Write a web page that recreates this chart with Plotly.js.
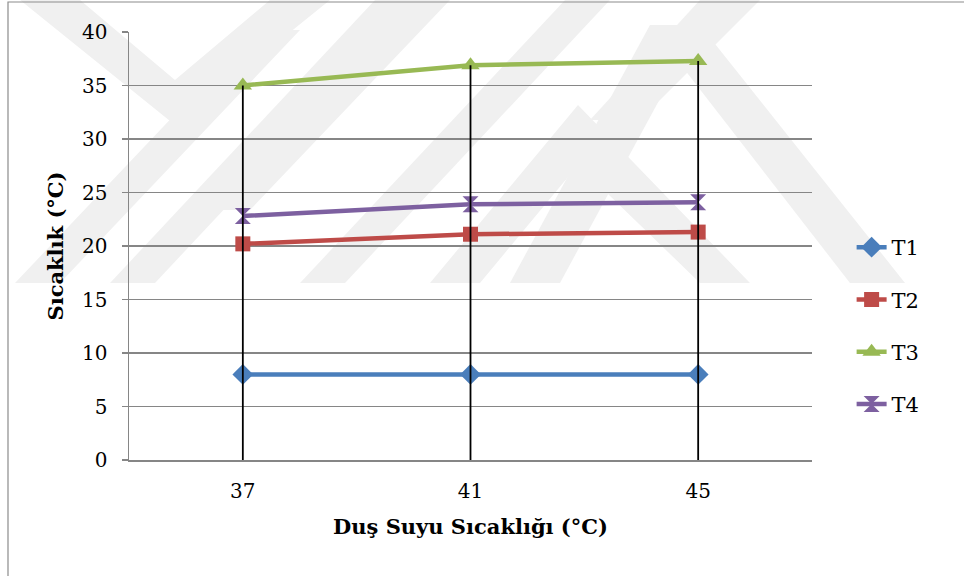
<!DOCTYPE html>
<html>
<head>
<meta charset="utf-8">
<script src="https://cdn.plot.ly/plotly-3.0.1.min.js"></script>
<style>html,body{margin:0;padding:0;background:#fff;}#chart{width:964px;height:576px;}</style>
</head>
<body>
<div id="chart"></div>
<script>
// ---- data ----
const categories = ["37", "41", "45"];
const seriesNames = ["T1", "T2", "T3", "T4"];
const T1 = [8.0, 8.0, 8.0];
const T2 = [20.2, 21.1, 21.3];
const T3 = [35.0, 36.9, 37.3];
const T4 = [22.8, 23.9, 24.1];
const yTicks = [0, 5, 10, 15, 20, 25, 30, 35, 40];

const colors = ["#4A7EBB", "#BE4B48", "#98B954", "#7D60A0"];
const symbols = ["diamond", "square", "triangle-up", "hourglass"];
const sizes = [16, 15, 16, 16];
const allSeries = [T1, T2, T3, T4];

const traces = allSeries.map((vals, i) => ({
  type: "scatter", mode: "lines+markers",
  x: categories, y: vals, name: seriesNames[i],
  legendgroup: seriesNames[i],
  line: {color: colors[i], width: 4.5},
  marker: {symbol: symbols[i], size: sizes[i], color: colors[i], line: {width: 0}}
}));

// drop lines: from 0 up to the highest series value at each category
const dropX = [], dropY = [];
categories.forEach((c, j) => {
  const top = Math.max(...allSeries.map(s => s[j]));
  dropX.push(c, c, null); dropY.push(0, top, null);
});
traces.push({type: "scatter", mode: "lines", x: dropX, y: dropY, showlegend: false,
  hoverinfo: "skip", line: {color: "#000", width: 1.8}});

// layout geometry
const W = 964, H = 576;
const M = {l: 129, r: 152, t: 32, b: 116};
const pw = W - M.l - M.r, ph = H - M.t - M.b;
const px = x => (x - M.l) / pw;
const py = y => 1 - (y - M.t) / ph;
function poly(pts) {
  return {type: "path", xref: "paper", yref: "paper", layer: "below",
    fillcolor: "#f0f0f0", line: {width: 0},
    path: "M" + pts.map(p => px(p[0]).toFixed(4) + "," + py(p[1]).toFixed(4)).join(" L") + " Z"};
}
const BOT = 283;
const wm = [
  // top-left chevron
  poly([[20,0],[80,0],[175,80],[270,0],[330,0],[175,125]]),
  // rising bands
  poly([[15,BOT],[60,BOT],[300,30],[255,30]]),
  poly([[110,BOT],[155,BOT],[420,0],[375,0]]),
  poly([[300,BOT],[345,BOT],[610,0],[565,0]]),
  poly([[400,0],[450,0],[250,210],[200,210]]),
  // right chevrons
  poly([[430,BOT],[480,BOT],[578,165],[700,BOT],[750,BOT],[578,105]]),
  poly([[650,25],[700,25],[905,BOT],[850,BOT]]),
  poly([[650,25],[700,25],[560,BOT],[510,BOT]]),
  poly([[700,0],[760,0],[640,120],[590,120]])
];

const shapes = wm.concat([
  {type: "rect", xref: "paper", yref: "paper", x0: px(8), x1: px(966), y0: py(2), y1: py(578),
   line: {color: "#8c8c8c", width: 1.2}, fillcolor: "rgba(0,0,0,0)", layer: "below"}
]);

const FAM = "DejaVu Serif";
const layout = {
  width: W, height: H, margin: M,
  paper_bgcolor: "#fff", plot_bgcolor: "rgba(0,0,0,0)",
  font: {family: FAM, color: "#000", size: 20},
  showlegend: true,
  legend: {x: 1.058, xanchor: "left", y: 0.313, yanchor: "middle",
    font: {family: FAM, size: 21, color: "#000"}, tracegroupgap: 22,
    traceorder: "grouped", bgcolor: "rgba(0,0,0,0)", itemwidth: 30},
  xaxis: {type: "category", range: [-0.5, 2.5], showgrid: false,
    showline: true, linecolor: "#868686", linewidth: 1.5, ticks: "",
    tickfont: {family: FAM, size: 20, color: "#000"}, ticklabelstandoff: 12,
    title: {text: "<b>Duş Suyu Sıcaklığı (°C)</b>", font: {family: FAM, size: 21, color: "#000"}, standoff: 18},
    zeroline: false, fixedrange: true},
  yaxis: {range: [0, 40], tickvals: yTicks, ticktext: yTicks.map(String),
    showgrid: true, gridcolor: "#868686", gridwidth: 1.5,
    showline: true, linecolor: "#868686", linewidth: 1.5,
    ticks: "outside", ticklen: 6, tickcolor: "#868686", tickwidth: 1.5,
    tickfont: {family: FAM, size: 20, color: "#000"}, ticklabelstandoff: 10,
    title: {text: "<b>Sıcaklık (°C)</b>", font: {family: FAM, size: 21, color: "#000"}, standoff: 12},
    zeroline: false, fixedrange: true},
  shapes: shapes
};

Plotly.newPlot("chart", traces, layout, {displayModeBar: false, staticPlot: true});
</script>
</body>
</html>
